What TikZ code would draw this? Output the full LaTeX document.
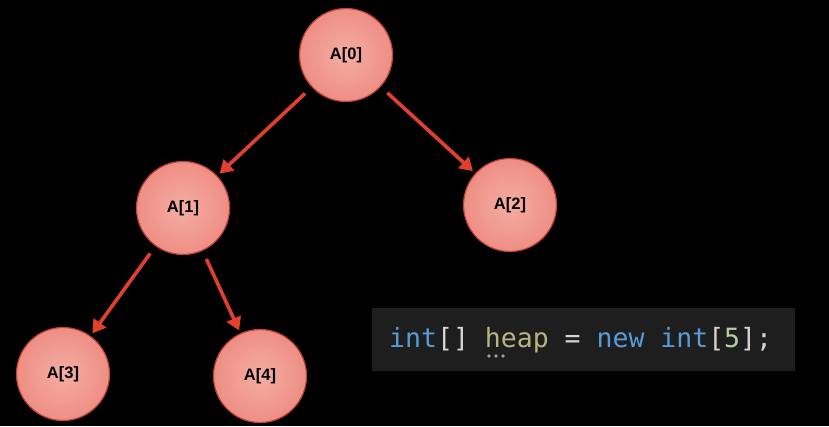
\documentclass[tikz,border=0pt]{standalone}
\usepackage{fontspec}
\setmainfont{Liberation Sans}
\newfontfamily\codefont{DejaVu Sans Mono}
\usetikzlibrary{arrows.meta}
\definecolor{nodefill}{HTML}{EE8E84}
\definecolor{nodeinner}{HTML}{F5ADA3}
\definecolor{nodeedge}{HTML}{C0443A}
\definecolor{arrowred}{HTML}{E0402C}
\definecolor{codebg}{HTML}{1E1E1E}
\definecolor{kwblue}{HTML}{569CD6}
\definecolor{punct}{HTML}{D4D4D4}
\definecolor{varcol}{HTML}{B8B482}
\definecolor{numcol}{HTML}{B5CEA8}
\begin{document}
\begin{tikzpicture}[x=1pt,y=-1pt,
  heapnode/.style={circle, minimum size=93pt, inner sep=0pt, draw=nodeedge, line width=1.2pt,
    inner color=nodeinner, outer color=nodefill, font=\bfseries\fontsize{16.5}{19}\selectfont},
  link/.style={draw=arrowred, line width=3.6pt, -{Triangle[length=13pt,width=15pt]}, shorten <=9pt, shorten >=3pt}]
\fill[black] (0,0) rectangle (829,426);
\useasboundingbox (0,0) rectangle (829,426);
\node[heapnode] (a0) at (346,55) {A[0]};
\node[heapnode] (a1) at (183,208) {A[1]};
\node[heapnode] (a2) at (510,205) {A[2]};
\node[heapnode] (a3) at (63,374) {A[3]};
\node[heapnode] (a4) at (260,376) {A[4]};
\draw[link] (a0) -- (a1);
\draw[link] (a0) -- (a2);
\draw[link] (a1) -- (a3);
\draw[link] (a1) -- (a4);
\node[fill=codebg, minimum width=423pt, minimum height=63pt, inner sep=0pt, anchor=north west] (codebox) at (372,308) {};
\node[anchor=west, inner sep=0pt, font=\codefont\fontsize{26.5}{30}\selectfont] (code) at (389,340)
  {\textcolor{kwblue}{int}\textcolor{punct}{[]} \textcolor{varcol}{heap} \textcolor{punct}{=} \textcolor{kwblue}{new} \textcolor{kwblue}{int}\textcolor{punct}{[}\textcolor{numcol}{5}\textcolor{punct}{];}};
\foreach \dx in {0,7,14} {\fill[gray!75] (489+\dx,356) circle (1.8pt);}
\end{tikzpicture}
\end{document}
